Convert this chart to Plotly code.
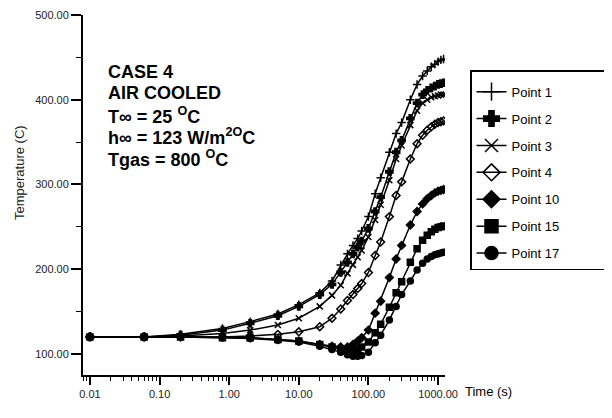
import plotly.graph_objects as go

# Time (s)
time_s = [0.01, 0.06, 0.2, 0.8, 2, 5, 10, 20, 30, 40, 50, 60, 70, 80, 100, 125, 150,
          200, 250, 300, 400, 500, 600, 700, 800, 900, 1000, 1100, 1200]

point1 = [120, 120, 123, 130, 138, 147, 158, 172, 186, 205, 218, 228, 236, 245, 262, 289, 308,
          338, 360, 373, 400, 418, 428, 434, 439, 442, 445, 447, 448]
point2 = [120, 120, 122, 128, 136, 145, 156, 170, 182, 196, 208, 218, 226, 233, 248, 268, 285,
          315, 338, 352, 378, 396, 406, 411, 414, 416, 418, 419, 420]
point3 = [120, 120, 121, 124, 128, 134, 142, 156, 169, 181, 195, 205, 214, 222, 238, 258, 276,
          305, 330, 346, 370, 387, 396, 400, 403, 404, 405, 406, 406]
point4 = [120, 120, 120, 120, 121, 123, 126, 132, 142, 153, 163, 170, 177, 183, 196, 216, 232,
          262, 287, 303, 330, 348, 358, 364, 368, 371, 373, 374, 375]
point10 = [120, 120, 120, 120, 119, 117, 115, 111, 109, 108, 108, 111, 115, 119, 128, 148, 162,
           190, 212, 228, 252, 268, 277, 283, 287, 290, 292, 293, 294]
point15 = [120, 120, 120, 119, 119, 117, 115, 111, 108, 105, 103, 103, 105, 108, 114, 125, 135,
           155, 172, 185, 208, 224, 234, 240, 244, 247, 249, 250, 251]
point17 = [120, 120, 120, 119, 118, 116, 114, 109, 105, 102, 99, 97, 97, 98, 102, 113, 122,
           140, 156, 170, 186, 199, 207, 212, 215, 217, 218, 219, 220]

series_names = ["Point 1", "Point 2", "Point 3", "Point 4", "Point 10", "Point 15", "Point 17"]
series_values = [point1, point2, point3, point4, point10, point15, point17]
symbols = ["cross-thin", "cross", "x-thin", "diamond-open", "diamond", "square", "circle"]

x_tick_vals = [0.01, 0.1, 1, 10, 100, 1000]
x_tick_text = ["0.01", "0.10", "1.00", "10.00", "100.00", "1000.00"]
y_tick_vals = [100, 200, 300, 400, 500]
y_tick_text = ["100.00", "200.00", "300.00", "400.00", "500.00"]

FONT = "Liberation Sans, Arial, sans-serif"

fig = go.Figure()
for name, vals, sym in zip(series_names, series_values, symbols):
    fig.add_trace(go.Scatter(
        x=time_s, y=vals, name=name, mode="lines+markers", showlegend=False,
        legendgroup=name,
        line=dict(color="black", width=1.5),
        marker=dict(symbol=sym, size=6, color="black",
                    line=dict(color="black", width=1.5)),
    ))
# legend entries (larger symbols, as in the reference key); trailing
# non-breaking spaces widen the key box like the reference
PAD = "\u00a0" * 12
for name, sym in zip(series_names, symbols):
    fig.add_trace(go.Scatter(
        x=[None], y=[None], name=name + PAD, mode="lines+markers", showlegend=True,
        legendgroup=name,
        line=dict(color="black", width=1.5),
        marker=dict(symbol=sym, size=13, color="black",
                    line=dict(color="black", width=1.5)),
    ))

# page offset (browser body margin)
OFF = 8
W, H = 612 - OFF, 418 - OFF
L, R, T, B = 83 - OFF, 445 - OFF, 15 - OFF, 375 - OFF
pw, ph = R - L, B - T

def px(x):
    return (x - OFF - L) / pw

def py(y):
    return (B - (y - OFF)) / ph

fig.update_layout(
    width=W, height=H,
    margin=dict(l=L, r=W - R, t=T, b=H - B, autoexpand=False),
    paper_bgcolor="white", plot_bgcolor="white",
    font=dict(family=FONT, color="black"),
    showlegend=True,
    legend=dict(
        x=px(470), y=py(70), xanchor="left", yanchor="top",
        bordercolor="black", borderwidth=1.5, bgcolor="white",
        font=dict(size=13, family=FONT, color="black"),
        title=dict(text=" ", font=dict(size=4)),
        tracegroupgap=7,
    ),
    xaxis=dict(
        type="log", range=[-2.1, 3.1],
        tickvals=x_tick_vals, ticktext=x_tick_text,
        ticks="outside", ticklen=8, tickwidth=1.5, tickcolor="black",
        showline=True, linecolor="black", linewidth=2,
        showgrid=False, zeroline=False,
        tickfont=dict(size=11, color="#222"),
        minor=dict(ticks="outside", ticklen=4, tickwidth=1.2, tickcolor="black",
                   dtick="D1", showgrid=False),
    ),
    yaxis=dict(
        range=[75, 500],
        tickvals=y_tick_vals, ticktext=y_tick_text,
        ticks="outside", ticklen=10, tickwidth=1.5, tickcolor="black",
        showline=True, linecolor="black", linewidth=2,
        showgrid=False, zeroline=False,
        tickfont=dict(size=11, color="#222"),
        minor=dict(ticks="outside", ticklen=5, tickwidth=1.2, tickcolor="black",
                   dtick=50, showgrid=False),
    ),
)

notes = [
    ("<b>CASE 4</b>", 72),
    ("<b>AIR COOLED</b>", 93),
    ("<b>T\u221e = 25 <sup>O</sup>C</b>", 115),
    ("<b>h\u221e = 123 W/m<sup>2O</sup>C</b>", 136),
    ("<b>Tgas = 800 <sup>O</sup>C</b>", 158),
]
for txt, yy in notes:
    fig.add_annotation(text=txt, xref="paper", yref="paper", x=px(106), y=py(yy),
                       xanchor="left", yanchor="middle", showarrow=False,
                       font=dict(size=18, family=FONT, color="black"))

fig.add_annotation(text="Time (s)", xref="paper", yref="paper", x=px(463), y=py(391),
                   xanchor="left", yanchor="middle", showarrow=False,
                   font=dict(size=13, family=FONT, color="black"))
fig.add_annotation(text="Temperature (C)", xref="paper", yref="paper", x=px(19), y=py(173),
                   xanchor="center", yanchor="middle", showarrow=False, textangle=-90,
                   font=dict(size=13, family=FONT, color="#222"))

fig.write_html("out.html")
